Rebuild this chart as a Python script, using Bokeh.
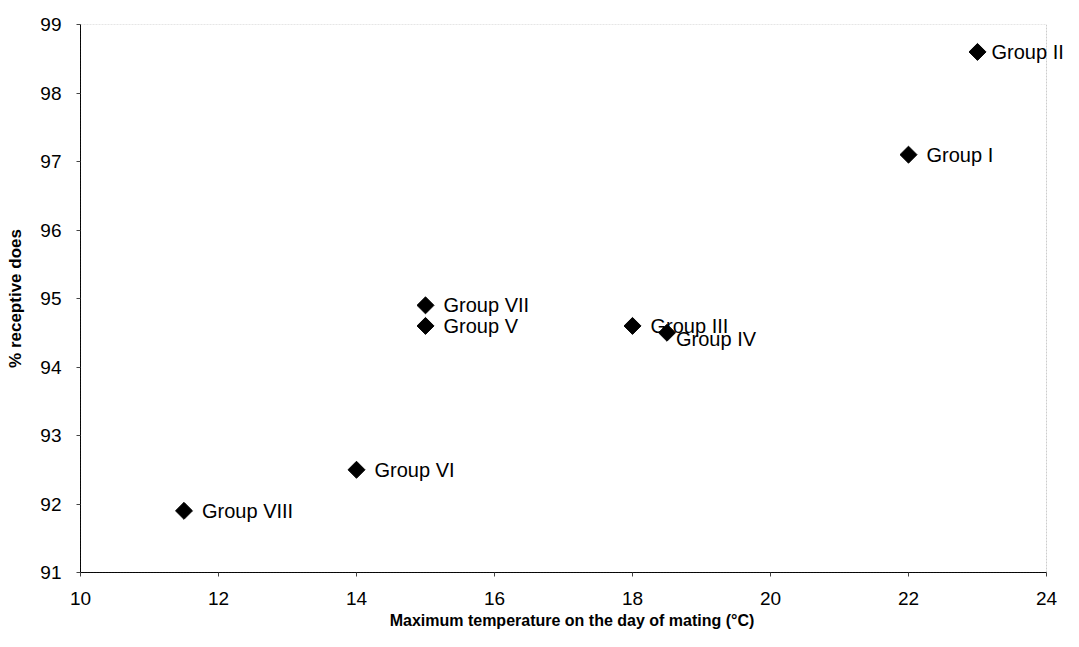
import math
from bokeh.plotting import figure
from bokeh.models import ColumnDataSource, Range1d, FixedTicker, LabelSet, BoxAnnotation
from bokeh.core.properties import value
from bokeh.embed import file_html
from bokeh.resources import INLINE

groups = ["Group I", "Group II", "Group III", "Group IV", "Group V", "Group VI", "Group VII", "Group VIII"]
temp = [22, 23, 18, 18.5, 15, 14, 15, 11.5]
receptive = [97.1, 98.6, 94.6, 94.5, 94.6, 92.5, 94.9, 91.9]
label_dx_px = [18, 14, 18, 9, 18, 18, 18, 18]
label_dy_px = [0, 0, 0, -6, 0, 0, 0, 0]
x_ticks = [10, 12, 14, 16, 18, 20, 22, 24]
y_ticks = [91, 92, 93, 94, 95, 96, 97, 98, 99]

X_MIN, X_MAX, Y_MIN, Y_MAX = 10, 24, 91, 99

src = ColumnDataSource(dict(x=temp, y=receptive, name=groups, dx=label_dx_px, dy=label_dy_px))

W, H = 1063, 631
LEFT, RIGHT_EDGE = 80, 1046  # frame left, pixel of x=24
frame_w = W - LEFT
x_end = X_MIN + (X_MAX - X_MIN) * frame_w / (RIGHT_EDGE - LEFT)

p = figure(width=W, height=H, output_backend="svg", toolbar_location=None,
           x_range=Range1d(X_MIN, x_end), y_range=Range1d(Y_MIN, Y_MAX),
           min_border_left=LEFT, min_border_right=0, min_border_top=24, min_border_bottom=59)

p.background_fill_color = "white"
p.border_fill_color = "white"
p.outline_line_color = None
p.xgrid.visible = False
p.ygrid.visible = False

box = BoxAnnotation(left=X_MIN, right=X_MAX, bottom=Y_MIN, top=Y_MAX,
                    fill_alpha=0, line_color="#555555", line_width=1, line_dash="2 1")
p.add_layout(box)

p.scatter("x", "y", source=src, marker="square", size=12, angle=math.pi / 4, color="black")
labels = LabelSet(x="x", y="y", text="name", source=src, x_offset="dx", y_offset="dy",
                  text_baseline="middle", text_font=value("Liberation Sans"),
                  text_font_size="20px", text_color="black")
p.add_layout(labels)

for ax in (p.xaxis, p.yaxis):
    ax.axis_line_color = "black"
    ax.major_tick_line_color = "#444444"
    ax.minor_tick_line_color = None
    ax.major_tick_out = 4
    ax.major_tick_in = 0
    ax.major_label_text_font = "Liberation Sans"
    ax.major_label_text_font_size = "19px"
    ax.major_label_text_color = "black"
    ax.axis_label_text_font = "Liberation Sans"
    ax.axis_label_text_font_style = "bold"
    ax.axis_label_text_color = "black"

p.xaxis.bounds = (X_MIN, X_MAX)
p.xaxis.axis_label_text_font_size = "16px"
p.yaxis.axis_label_text_font_size = "17px"
p.xaxis.ticker = FixedTicker(ticks=x_ticks)
p.yaxis.ticker = FixedTicker(ticks=y_ticks)
p.xaxis.axis_label = "Maximum temperature on the day of mating (\u00b0C)"
p.yaxis.axis_label = "% receptive does"
p.xaxis.major_label_standoff = 15
p.yaxis.major_label_standoff = 15
p.xaxis.axis_label_standoff = 4
p.yaxis.axis_label_standoff = 12

open("out.html", "w").write(file_html(p, INLINE))
